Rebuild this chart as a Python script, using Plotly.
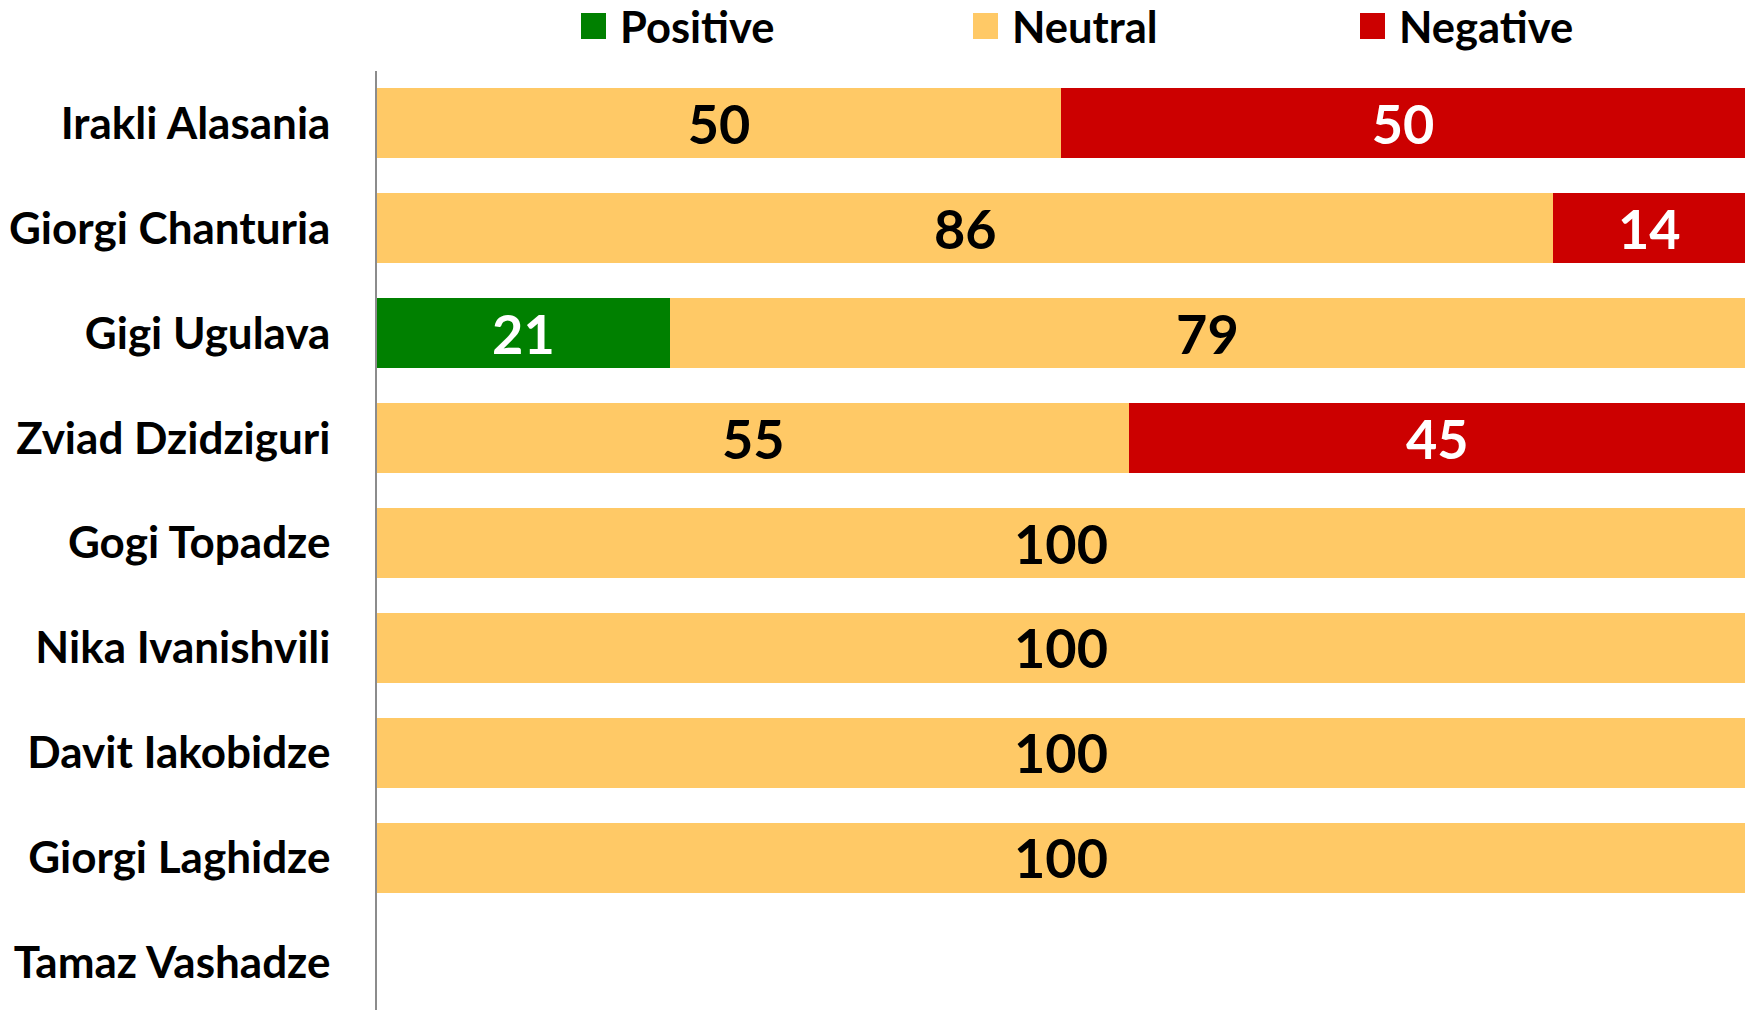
import plotly.graph_objects as go

categories = ["Irakli Alasania", "Giorgi Chanturia", "Gigi Ugulava", "Zviad Dzidziguri",
              "Gogi Topadze", "Nika Ivanishvili", "Davit Iakobidze", "Giorgi Laghidze",
              "Tamaz Vashadze"]
positive = [None, None, 21.4, None, None, None, None, None, None]
neutral = [50, 86, 78.6, 55, 100, 100, 100, 100, None]
negative = [50, 14, None, 45, None, None, None, None, None]

series_names = ["Positive", "Neutral", "Negative"]
series_colors = ["#008000", "#FFC966", "#CC0000"]
text_colors = ["white", "black", "white"]

W, H = 1745, 1010
L, R, T, B = 377, 0, 71, 0
PW, PH = W - L - R, H - T - B
ROW_PX = 104.9

FONT = "Lato"

fig = go.Figure()
for name, vals, col, tcol in zip(series_names, [positive, neutral, negative], series_colors, text_colors):
    fig.add_trace(go.Bar(
        name=name, y=categories, x=vals, orientation="h",
        marker=dict(color=col, line=dict(width=0)),
        texttemplate="%{x:.0f}",
        textposition="inside", insidetextanchor="middle", textangle=0,
        textfont=dict(family=FONT, size=54, color=tcol, weight="bold"),
        constraintext="none",
        showlegend=False, hoverinfo="x+y+name",
    ))

def px_x(p):
    return (p - L) / PW

def px_y(p):
    return (H - B - p) / PH

shapes = []
annotations = []
legend_sq_left = [581, 973, 1360]
for name, col, x0 in zip(series_names, series_colors, legend_sq_left):
    shapes.append(dict(type="rect", xref="paper", yref="paper",
                       x0=px_x(x0), x1=px_x(x0 + 25), y0=px_y(39), y1=px_y(13),
                       fillcolor=col, line=dict(width=0)))
    annotations.append(dict(xref="paper", yref="paper", x=px_x(x0 + 38), y=px_y(26),
                            xanchor="left", yanchor="middle", text=name, showarrow=False,
                            borderpad=0,
                            font=dict(family=FONT, size=43.5, color="black", weight="bold")))

y_top = -0.5
y_bottom = y_top + PH / ROW_PX

fig.update_layout(
    barmode="stack",
    width=W, height=H,
    margin=dict(l=L, r=R, t=T, b=B, pad=0),
    paper_bgcolor="white", plot_bgcolor="white",
    bargap=0.333,
    xaxis=dict(range=[0, 100], visible=False, showgrid=False, zeroline=False),
    yaxis=dict(type="category", range=[y_bottom, y_top], showline=True, linecolor="#8C8C8C",
               linewidth=1.5, showgrid=False, zeroline=False,
               ticks="outside", ticklen=36, tickcolor="rgba(0,0,0,0)",
               tickfont=dict(family=FONT, size=44, color="black", weight="bold")),
    shapes=shapes,
    annotations=annotations,
)

fig.write_html(
    "out.html",
    config={"displayModeBar": False},
    post_script="document.body.style.margin='0';document.body.style.overflow='hidden';",
)
